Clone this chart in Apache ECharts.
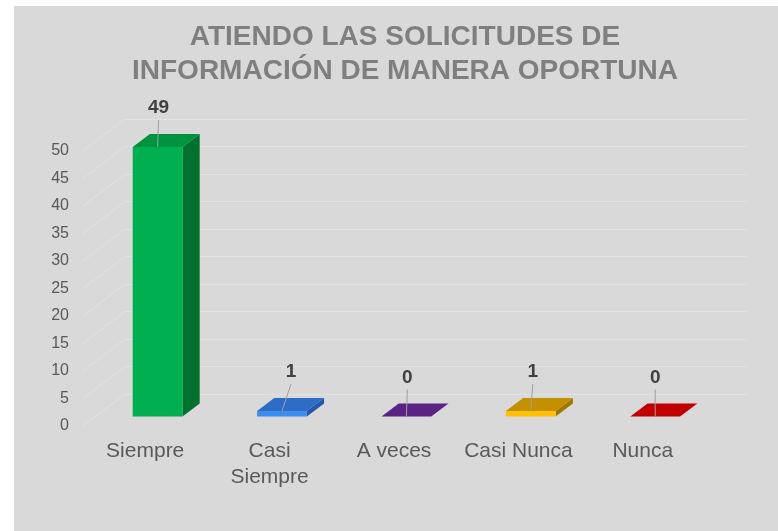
<!DOCTYPE html>
<html>
<head>
<meta charset="utf-8">
<script src="https://cdn.jsdelivr.net/npm/echarts@6/dist/echarts.min.js"></script>
<style>
  html, body { margin: 0; padding: 0; background: #ffffff; }
  #chart { width: 778px; height: 531px; }
</style>
</head>
<body>
<div id="chart"></div>
<script>
// ---- data ----
const titleText = 'ATIENDO LAS SOLICITUDES DE\nINFORMACIÓN DE MANERA OPORTUNA';
const categories = ['Siempre', 'Casi Siempre', 'A veces', 'Casi Nunca', 'Nunca'];
const values = [49, 1, 0, 1, 0];
const yTickValues = [0, 5, 10, 15, 20, 25, 30, 35, 40, 45, 50];

// ---- style constants ----
const FONT = "'Liberation Sans', Arial, sans-serif";
const DX = 42, DY = 32;            // depth of the floor (perspective offset)
const BAR_RATIO = 0.4;             // bar width / band width
const BAR_DEPTH = 0.41;            // bar depth / floor depth
const BAR_OFF = 0.295;             // bar front offset / floor depth
const GRID_COLOR = '#e2e2e2';
const FRONT = { left: 83, top: 151, width: 622, height: 275 };
const LABEL_NUDGE_X = [1, 9, 1, 2, 0]; // manual label placement (style)
const palette = [
  { front: '#00b050', top: '#00933f', side: '#00722f' },
  { front: '#3b8ef0', top: '#2f6cc5', side: '#2458aa' },
  { front: '#7030a0', top: '#5a2383', side: '#481c6a' },
  { front: '#ffc000', top: '#c39100', side: '#a07800' },
  { front: '#e00000', top: '#c00000', side: '#9a0000' }
];

const chart = echarts.init(document.getElementById('chart'), null, { renderer: 'canvas' });

const option = {
  backgroundColor: '#ffffff',
  animation: false,
  textStyle: { fontFamily: FONT },
  graphic: [
    { type: 'rect', z: -10, silent: true, shape: { x: 14, y: 6, width: 764, height: 525 }, style: { fill: '#d9d9d9' } },
    {
      type: 'text', z: 10, silent: true, x: 405, y: 20,
      style: {
        text: titleText, fill: '#7f7f7f', textAlign: 'center', textVerticalAlign: 'top',
        font: "bold 28px " + FONT, lineHeight: 34
      }
    }
  ],
  grid: [
    { left: FRONT.left, top: FRONT.top, width: FRONT.width, height: FRONT.height },
    { left: FRONT.left + DX, top: FRONT.top - DY, width: FRONT.width, height: FRONT.height }
  ],
  xAxis: [
    {
      type: 'category', gridIndex: 0, data: categories,
      axisLine: { show: false }, axisTick: { show: false }, splitLine: { show: false },
      axisLabel: {
        interval: 0, margin: 12, fontSize: 21, color: '#595959', lineHeight: 26, fontFamily: FONT,
        formatter: function (v) { return v === 'Casi Siempre' ? 'Casi\nSiempre' : v; }
      }
    },
    {
      type: 'category', gridIndex: 1, data: categories, show: false
    }
  ],
  yAxis: [
    {
      type: 'value', gridIndex: 0, min: 0, max: 50, interval: 5,
      axisLine: { show: false }, axisTick: { show: false }, splitLine: { show: false },
      axisLabel: { margin: 14, fontSize: 16, color: '#595959', fontFamily: FONT }
    },
    {
      type: 'value', gridIndex: 1, min: 0, max: 50, interval: 5,
      axisLine: { show: false }, axisTick: { show: false },
      axisLabel: { show: false },
      splitLine: { show: true, lineStyle: { color: GRID_COLOR, width: 1 } }
    }
  ],
  series: [
    {
      type: 'custom', xAxisIndex: 0, yAxisIndex: 0, silent: true, z: 1,
      data: yTickValues.map(function (v) { return [0, v]; }),
      renderItem: function (params, api) {
        const cs = params.coordSys;
        const y = api.coord([0, api.value(1)])[1];
        return {
          type: 'line',
          shape: { x1: cs.x, y1: y, x2: cs.x + DX, y2: y - DY },
          style: { stroke: GRID_COLOR, lineWidth: 1 }
        };
      }
    },
    {
      type: 'custom', xAxisIndex: 0, yAxisIndex: 0, silent: true, z: 3,
      data: values.map(function (v, i) { return [i, v]; }),
      renderItem: function (params, api) {
        const i = api.value(0), v = api.value(1);
        const base = api.coord([i, 0]);
        const top = api.coord([i, v]);
        const band = api.size([1, 0])[0];
        const w = band * BAR_RATIO;
        const ox = DX * BAR_OFF, oy = DY * BAR_OFF;
        const dx = DX * BAR_DEPTH, dy = DY * BAR_DEPTH;
        const x0 = base[0] - w / 2 + ox, x1 = x0 + w;
        const yb = base[1] - oy, yt = top[1] - oy;
        const c = palette[i];
        const cx = (x0 + x1) / 2;
        const lx = cx + LABEL_NUDGE_X[i];
        const children = [];
        if (yb - yt > 0.01) {
          children.push({ type: 'polygon', shape: { points: [[x1, yt], [x1 + dx, yt - dy], [x1 + dx, yb - dy], [x1, yb]] }, style: { fill: c.side } });
          children.push({ type: 'polygon', shape: { points: [[x0, yt], [x1, yt], [x1, yb], [x0, yb]] }, style: { fill: c.front } });
        }
        children.push({ type: 'polygon', shape: { points: [[x0, yt], [x1, yt], [x1 + dx, yt - dy], [x0 + dx, yt - dy]] }, style: { fill: c.top } });
        children.push({ type: 'line', shape: { x1: lx, y1: yt - 27, x2: cx, y2: yt }, style: { stroke: '#a0a0a0', lineWidth: 1 } });
        children.push({
          type: 'text', x: lx, y: yt - 39,
          style: { text: String(v), fill: '#404040', textAlign: 'center', textVerticalAlign: 'middle', font: 'bold 19px ' + FONT }
        });
        return { type: 'group', children: children };
      }
    }
  ]
};

chart.setOption(option);
</script>
</body>
</html>
